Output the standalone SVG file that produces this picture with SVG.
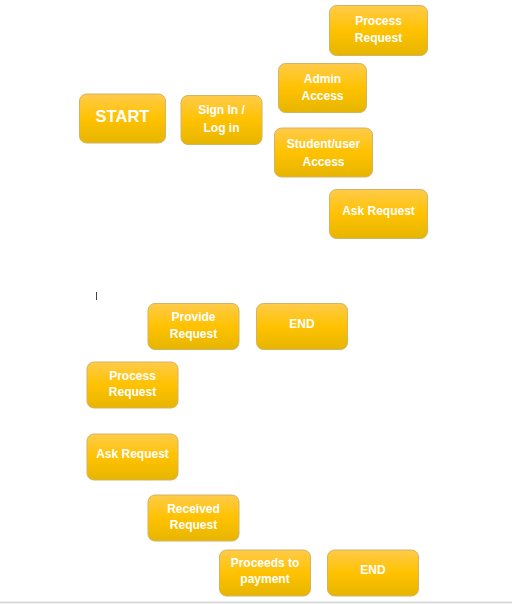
<svg xmlns="http://www.w3.org/2000/svg" width="512" height="604" viewBox="0 0 512 604">
<defs>
<linearGradient id="g" x1="0" y1="0" x2="0" y2="1">
<stop offset="0" stop-color="#FFCB4A"/>
<stop offset="0.5" stop-color="#FFC200"/>
<stop offset="1" stop-color="#E6B500"/>
</linearGradient>
</defs>
<style>
.b{fill:url(#g);stroke:#D2B466;stroke-width:1}
.t{font-family:"Liberation Sans",Arial,sans-serif;font-weight:bold;font-size:12px;fill:#FFFFFF;text-anchor:middle}
.big{font-size:16.5px}
</style>
<rect x="0" y="0" width="512" height="604" fill="#FFFFFF"/>
<g id="connectors"></g>
<g id="n1"><rect class="b" x="329.5" y="5.5" width="98" height="50" rx="7"/><text class="t" x="378.5" y="25">Process</text><text class="t" x="378.5" y="42">Request</text></g>
<g id="n2"><rect class="b" x="278.5" y="63.5" width="88" height="49" rx="7"/><text class="t" x="322.5" y="82.5">Admin</text><text class="t" x="322.5" y="100">Access</text></g>
<g id="n3"><rect class="b" x="79.5" y="94" width="86" height="49" rx="7"/><text class="t big" x="122.5" y="121.5">START</text></g>
<g id="n4"><rect class="b" x="181" y="95.5" width="81" height="49" rx="7"/><text class="t" x="221.5" y="114">Sign In /</text><text class="t" x="221.5" y="132">Log in</text></g>
<g id="n5"><rect class="b" x="274.5" y="128" width="98" height="49" rx="7"/><text class="t" x="323.5" y="147.5">Student/user</text><text class="t" x="323.5" y="165.5">Access</text></g>
<g id="n6"><rect class="b" x="329.5" y="189.5" width="98" height="49" rx="7"/><text class="t" x="378.5" y="215">Ask Request</text></g>
<line x1="96.5" y1="292" x2="96.5" y2="300" stroke="#444444" stroke-width="1"/>
<g id="n7"><rect class="b" x="148" y="303.5" width="91" height="46" rx="7"/><text class="t" x="193.5" y="321">Provide</text><text class="t" x="193.5" y="337.5">Request</text></g>
<g id="n8"><rect class="b" x="256.5" y="303.5" width="91" height="46" rx="7"/><text class="t" x="302" y="327.5">END</text></g>
<g id="n9"><rect class="b" x="87" y="362" width="91" height="46" rx="7"/><text class="t" x="132.5" y="379.5">Process</text><text class="t" x="132.5" y="395.5">Request</text></g>
<g id="n10"><rect class="b" x="87" y="434" width="91" height="46" rx="7"/><text class="t" x="132.5" y="458">Ask Request</text></g>
<g id="n11"><rect class="b" x="148" y="495" width="91" height="46" rx="7"/><text class="t" x="193.5" y="513">Received</text><text class="t" x="193.5" y="529">Request</text></g>
<g id="n12"><rect class="b" x="219.5" y="550" width="91" height="46" rx="7"/><text class="t" x="265" y="567">Proceeds to</text><text class="t" x="265" y="583">payment</text></g>
<g id="n13"><rect class="b" x="327.5" y="550" width="91" height="46" rx="7"/><text class="t" x="373" y="574">END</text></g>
<rect x="0" y="601.5" width="512" height="1.5" fill="#D9D9D9"/>
<rect x="0" y="603" width="512" height="1" fill="#EFEFEF"/>
</svg>
